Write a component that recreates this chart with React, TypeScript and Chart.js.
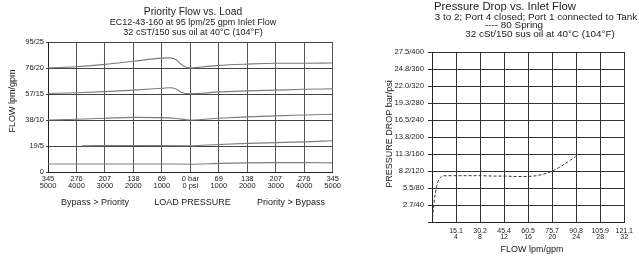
import React, { useEffect, useRef } from 'react';
import { Chart, registerables } from 'chart.js';
Chart.register(...registerables);

const FONT = '"Liberation Sans", Arial, Helvetica, sans-serif';
const INK = '#222';

// ---------- Left chart: Priority Flow vs. Load ----------
const LOAD_TICK_BAR = ['345', '276', '207', '138', '69', '0 bar', '69', '138', '207', '276', '345'];
const LOAD_TICK_PSI = ['5000', '4000', '3000', '2000', '1000', '0 psi', '1000', '2000', '3000', '4000', '5000'];
const FLOW_TICKS = ['0', '19/5', '38/10', '57/15', '76/20', '95/25'];

// load pressure in psi (negative = Bypass > Priority side), flow in gpm
const C20_X = [-5000, -4000, -3000, -2000, -1000, -700, -500, -300, 0, 400, 1000, 2000, 3000, 4000, 5000];
const C20_Y = [20.05, 20.25, 20.7, 21.3, 21.9, 21.95, 21.6, 20.6, 20.0, 20.2, 20.5, 20.75, 20.9, 20.9, 20.95];
const C15_X = [-5000, -4000, -3000, -2000, -1000, -700, -500, -300, 0, 400, 1000, 2000, 3000, 4000, 5000];
const C15_Y = [15.1, 15.25, 15.45, 15.75, 16.1, 16.2, 15.95, 15.3, 15.05, 15.15, 15.4, 15.6, 15.75, 15.9, 16.0];
const C10_X = [-5000, -4000, -3000, -2000, -1000, -500, 0, 1000, 2000, 3000, 4000, 5000];
const C10_Y = [10.0, 10.15, 10.35, 10.5, 10.45, 10.3, 10.0, 10.35, 10.6, 10.8, 10.95, 11.1];
const C5_X = [-3800, -2000, 0, 1000, 2000, 3000, 4000, 5000];
const C5_Y = [5.05, 5.1, 5.05, 5.3, 5.5, 5.65, 5.8, 6.0];
const C1_X = [-5000, -1000, 0, 1000, 2000, 3000, 4000, 5000];
const C1_Y = [1.55, 1.55, 1.5, 1.65, 1.75, 1.8, 1.8, 1.75];

// ---------- Right chart: Pressure Drop vs. Inlet Flow ----------
const FLOW_LPM = ['', '15.1', '30.2', '45.4', '60.5', '75.7', '90.8', '105.9', '121.1'];
const FLOW_GPM = ['', '4', '8', '12', '16', '20', '24', '28', '32'];
const PD_TICKS = ['', '2.7/40', '5.5/80', '8.2/120', '11.3/160', '13.8/200', '16.5/240', '19.3/280', '22.0/320', '24.8/360', '27.5/400'];

// flow gpm vs pressure drop psi, 80 spring
const S80_X = [0.1, 0.21, 0.48, 0.76, 1.29, 2.38, 4.5, 7.8, 10.5, 12.1, 14.2, 16.9, 19.1, 20.2, 21.8, 23.9];
const S80_Y = [10, 28, 60, 83, 103, 109, 109, 109, 108, 108, 107, 108, 115, 121, 134, 154];

const pts = (xs: number[], ys: number[]) => xs.map((x, i) => ({ x, y: ys[i] }));

const textPlugin = {
  id: 'freeText',
  afterDraw(chart: any, _args: any, opts: any) {
    const ctx = chart.ctx;
    for (const it of opts.items || []) {
      ctx.save();
      ctx.font = `${it.size}px ${FONT}`;
      ctx.fillStyle = INK;
      ctx.textAlign = 'center';
      ctx.textBaseline = 'middle';
      ctx.translate(it.x, it.y);
      if (it.rot) ctx.rotate(it.rot);
      ctx.fillText(it.text, 0, 0);
      ctx.restore();
    }
  },
};

function ChartBox({ make, left, width, height }: { make: () => any; left: number; width: number; height: number }) {
  const ref = useRef<HTMLCanvasElement>(null);
  useEffect(() => {
    const chart = new Chart(ref.current as HTMLCanvasElement, make());
    return () => chart.destroy();
  }, []);
  return (
    <canvas
      ref={ref}
      width={width}
      height={height}
      style={{ position: 'absolute', left, top: 0, width, height }}
    />
  );
}

const curveStyle = {
  borderColor: '#7c7c7c',
  borderWidth: 1.1,
  pointRadius: 0,
  fill: false,
  cubicInterpolationMode: 'monotone',
};

function makeLeft() {
  return {
    type: 'line',
    data: {
      datasets: [
        { ...curveStyle, data: pts(C20_X, C20_Y) },
        { ...curveStyle, data: pts(C15_X, C15_Y) },
        { ...curveStyle, data: pts(C10_X, C10_Y) },
        { ...curveStyle, data: pts(C5_X, C5_Y) },
        { ...curveStyle, data: pts(C1_X, C1_Y) },
      ],
    },
    options: {
      responsive: false,
      animation: false,
      devicePixelRatio: 1,
      layout: { padding: { top: 42, right: 7, left: 0, bottom: 0 } },
      plugins: {
        legend: { display: false },
        tooltip: { enabled: false },
        freeText: {
          items: [
            { text: 'Priority Flow vs. Load', x: 193, y: 12, size: 10.3 },
            { text: 'EC12-43-160 at 95 lpm/25 gpm Inlet Flow', x: 193, y: 22.7, size: 9 },
            { text: '32 cST/150 sus oil at 40°C (104°F)', x: 193, y: 32.7, size: 9 },
            { text: 'Bypass > Priority', x: 95, y: 203, size: 9 },
            { text: 'LOAD PRESSURE', x: 192.5, y: 203, size: 9 },
            { text: 'Priority > Bypass', x: 291, y: 203, size: 9 },
            { text: 'FLOW lpm/gpm', x: 13, y: 101, size: 9, rot: -Math.PI / 2 },
          ],
        },
      },
      scales: {
        x: {
          type: 'linear',
          min: -5000,
          max: 5000,
          afterFit: (s: any) => { s.height = 86; },
          grid: { color: '#555', lineWidth: 1, drawTicks: false },
          border: { display: true, color: INK, width: 1 },
          ticks: {
            stepSize: 1000,
            autoSkip: false,
            maxRotation: 0,
            padding: 4,
            color: INK,
            font: { family: FONT, size: 7.5, lineHeight: 0.85 },
            callback: (v: number) => {
              const i = Math.round((v + 5000) / 1000);
              return [LOAD_TICK_BAR[i], LOAD_TICK_PSI[i]];
            },
          },
        },
        y: {
          type: 'linear',
          min: 0,
          max: 25,
          afterFit: (s: any) => { s.width = 48; },
          grid: { color: '#444', lineWidth: 1, drawTicks: true, tickLength: 2 },
          border: { display: true, color: INK, width: 1 },
          ticks: {
            stepSize: 5,
            autoSkip: false,
            padding: 2,
            color: INK,
            font: { family: FONT, size: 7.5 },
            callback: (v: number) => FLOW_TICKS[Math.round(v / 5)],
          },
        },
      },
    },
    plugins: [textPlugin],
  };
}

function makeRight() {
  return {
    type: 'line',
    data: {
      datasets: [
        {
          data: pts(S80_X, S80_Y),
          borderColor: '#333',
          borderWidth: 1,
          borderDash: [3, 2],
          pointRadius: 0,
          fill: false,
          cubicInterpolationMode: 'monotone',
        },
      ],
    },
    options: {
      responsive: false,
      animation: false,
      devicePixelRatio: 1,
      layout: { padding: { top: 52, right: 9, left: 0, bottom: 0 } },
      plugins: {
        legend: { display: false },
        tooltip: { enabled: false },
        freeText: {
          items: [
            { text: 'Pressure Drop vs. Inlet Flow', x: 160, y: 7, size: 11.3 },
            { text: '3 to 2; Port 4 closed; Port 1 connected to Tank', x: 191, y: 17, size: 9.9 },
            { text: '---- 80 Spring', x: 169, y: 25.5, size: 9.9 },
            { text: '32 cSt/150 sus oil at 40°C (104°F)', x: 195, y: 34, size: 9.9 },
            { text: 'FLOW lpm/gpm', x: 187, y: 250, size: 9 },
            { text: 'PRESSURE DROP bar/psi', x: 45, y: 134, size: 9, rot: -Math.PI / 2 },
          ],
        },
      },
      scales: {
        x: {
          type: 'linear',
          min: 0,
          max: 32,
          afterFit: (s: any) => { s.height = 36; },
          grid: { color: '#333', lineWidth: 1, drawTicks: false },
          border: { display: true, color: INK, width: 1 },
          ticks: {
            stepSize: 4,
            autoSkip: false,
            maxRotation: 0,
            padding: 6,
            color: INK,
            font: { family: FONT, size: 7, lineHeight: 0.9 },
            callback: (v: number) => {
              const i = Math.round(v / 4);
              return FLOW_LPM[i] ? [FLOW_LPM[i], FLOW_GPM[i]] : '';
            },
          },
        },
        y: {
          type: 'linear',
          min: 0,
          max: 400,
          afterFit: (s: any) => { s.width = 87; },
          grid: { color: '#333', lineWidth: 1, drawTicks: true, tickLength: 4 },
          border: { display: true, color: INK, width: 1 },
          ticks: {
            stepSize: 40,
            autoSkip: false,
            padding: 4,
            color: INK,
            font: { family: FONT, size: 7.6 },
            callback: (v: number) => PD_TICKS[Math.round(v / 40)],
          },
        },
      },
    },
    plugins: [textPlugin],
  };
}

export default function App() {
  return (
    <div style={{ position: 'absolute', left: 0, top: 0, width: 639, height: 258, background: '#fff', overflow: 'hidden' }}>
      <ChartBox make={makeLeft} left={0} width={345} height={258} />
      <ChartBox make={makeRight} left={345} width={294} height={258} />
    </div>
  );
}
